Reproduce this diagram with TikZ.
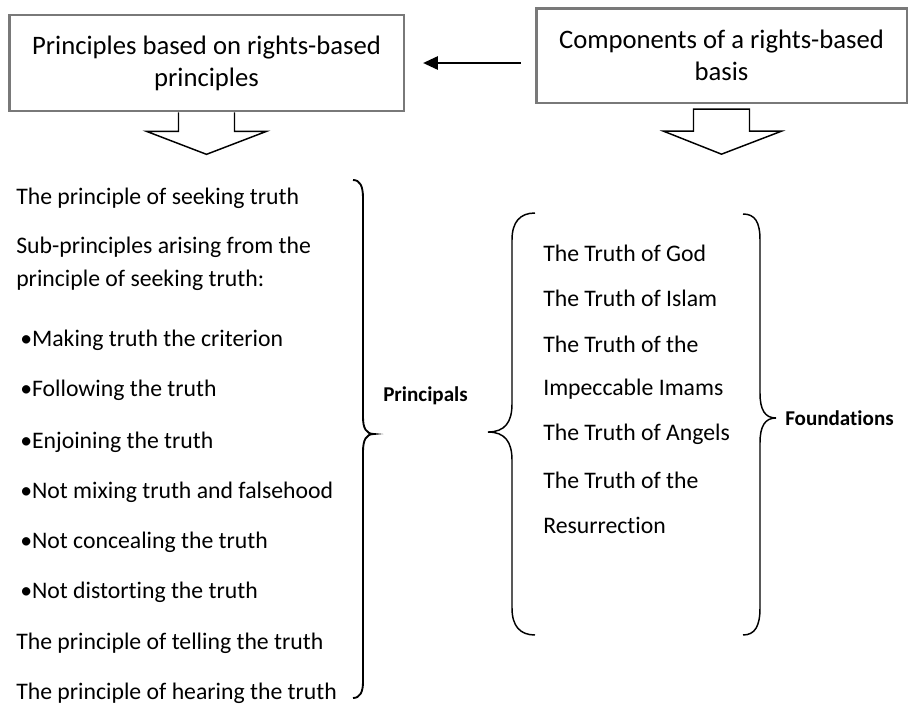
\documentclass[tikz,border=0pt]{standalone}
\usepackage{fontspec}
\setmainfont{Carlito}[Ligatures={NoCommon}]
\usetikzlibrary{arrows.meta,calc}

\begin{document}
\begin{tikzpicture}[x=0.75pt,y=-0.75pt,
  box/.style={draw=gray!95!black,line width=2pt,fill=white,align=center,inner sep=0,
    font=\fontsize{20}{24}\selectfont},
  blockarr/.style={draw=black,line width=1.1pt,fill=white,line join=miter},
  curly/.style={line width=1.1pt},
  item/.style={anchor=west,inner sep=0,font=\fontsize{17.8}{21}\selectfont},
  tag/.style={anchor=west,inner sep=0,font=\fontsize{15.8}{19}\selectfont\bfseries}]
\useasboundingbox (0,0) rectangle (908,704);
\node[box,minimum width=296pt,minimum height=72pt] (lbox) at (206.5,63)
  {Principles based on rights-based\\principles};
\node[box,minimum width=278pt,minimum height=71pt] (rbox) at (721.5,55.5)
  {Components of a rights-based\\basis};
\draw[line width=1.1pt,-{Triangle[length=11pt,width=10pt]},shorten <=10.5pt,shorten >=13.5pt]
  (rbox.west |- lbox.east) -- (lbox.east);
\draw[blockarr] ($(lbox.south)+(-28,0)$) -- ++(0,19) -- ++(-32,0) -- ++(60,23)
  -- ++(60,-23) -- ++(-32,0) -- ++(0,-19);
\draw[blockarr] ($(rbox.south)+(-28,5)$) -- ++(0,22) -- ++(-30,0) -- ++(58,23)
  -- ++(60,-23) -- ++(-32,0) -- ++(0,-22) -- cycle;
\foreach \x/\y/\t [count=\i] in {16/198/The principle of seeking truth,
  16/247/Sub-principles arising from the,16/280/principle of seeking truth:,
  20/340/•Making truth the criterion,20/390/•Following the truth,20/442/•Enjoining the truth,
  20/492/•Not mixing truth and falsehood,20/542/•Not concealing the truth,
  20/592/•Not distorting the truth,16/643/The principle of telling the truth,
  16/693/The principle of hearing the truth}
  \node[item] (p\i) at (\x,\y) {\t};
\foreach \y/\t [count=\i] in {253/The Truth of God,298/The Truth of Islam,
  344/The Truth of the,389/Impeccable Imams,434/The Truth of Angels,
  480/The Truth of the,525/Resurrection}
  \node[item] (t\i) at (543,\y) {\t};
\node[tag] (principals) at (383,396) {Principals};
\node[tag] (foundations) at (785,418) {Foundations};
\draw[curly,line width=1.4pt] (353,180) .. controls (360,180) and (363,186) .. (363,198)
  -- (363,417) .. controls (363,428) and (366,434) .. (374,434)
  .. controls (366,434) and (363,440) .. (363,452) -- (363,682)
  .. controls (363,692) and (360,698) .. (353,698);
\draw[curly] (535,213) .. controls (520,213) and (512,222) .. (512,240) -- (512,404)
  .. controls (512,422) and (505,432) .. (488,432)
  .. controls (505,432) and (512,442) .. (512,460) -- (512,608)
  .. controls (512,626) and (520,635) .. (535,635);
\draw[curly] (743,214) .. controls (755,214) and (760,222) .. (760,240) -- (760,393)
  .. controls (760,410) and (765,418) .. (776,418)
  .. controls (765,418) and (760,426) .. (760,443) -- (760,608)
  .. controls (760,626) and (755,635) .. (743,635);
\end{tikzpicture}
\end{document}
